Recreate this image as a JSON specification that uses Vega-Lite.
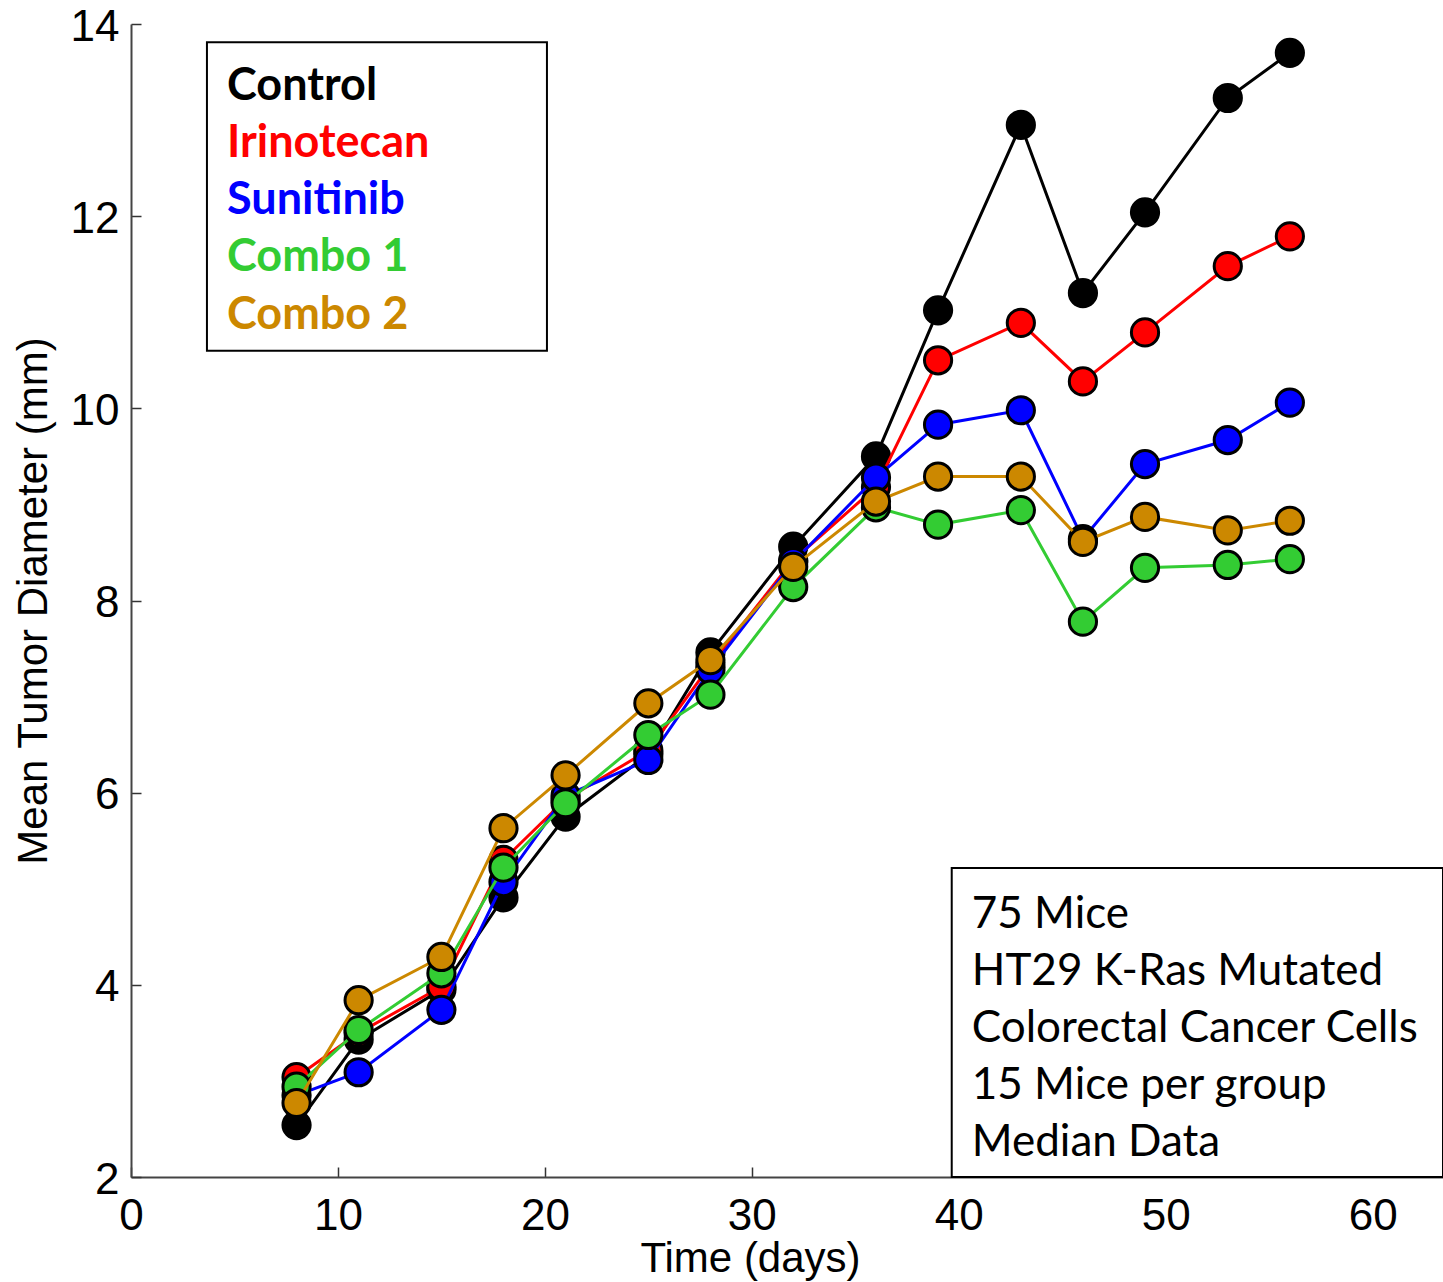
{
  "$schema": "https://vega.github.io/schema/vega-lite/v6.json",
  "width": 1312,
  "height": 1153,
  "autosize": {"type": "none"},
  "padding": {"left": 131, "top": 24, "right": 0, "bottom": 105},
  "background": "white",
  "config": {"view": {"stroke": null}, "font": "Liberation Sans"},
  "datasets": {
    "tumor": [
      {"series": "Control", "day": 8, "diameter": 2.54},
      {"series": "Control", "day": 11, "diameter": 3.43},
      {"series": "Control", "day": 15, "diameter": 3.95},
      {"series": "Control", "day": 18, "diameter": 4.91},
      {"series": "Control", "day": 21, "diameter": 5.75},
      {"series": "Control", "day": 25, "diameter": 6.40},
      {"series": "Control", "day": 28, "diameter": 7.46},
      {"series": "Control", "day": 32, "diameter": 8.56},
      {"series": "Control", "day": 36, "diameter": 9.50},
      {"series": "Control", "day": 39, "diameter": 11.02},
      {"series": "Control", "day": 43, "diameter": 12.95},
      {"series": "Control", "day": 46, "diameter": 11.20},
      {"series": "Control", "day": 49, "diameter": 12.04},
      {"series": "Control", "day": 53, "diameter": 13.23},
      {"series": "Control", "day": 56, "diameter": 13.70},
      {"series": "Irinotecan", "day": 8, "diameter": 3.04},
      {"series": "Irinotecan", "day": 11, "diameter": 3.50},
      {"series": "Irinotecan", "day": 15, "diameter": 3.98},
      {"series": "Irinotecan", "day": 18, "diameter": 5.30},
      {"series": "Irinotecan", "day": 21, "diameter": 5.93},
      {"series": "Irinotecan", "day": 25, "diameter": 6.44},
      {"series": "Irinotecan", "day": 28, "diameter": 7.33},
      {"series": "Irinotecan", "day": 32, "diameter": 8.42},
      {"series": "Irinotecan", "day": 36, "diameter": 9.18},
      {"series": "Irinotecan", "day": 39, "diameter": 10.50},
      {"series": "Irinotecan", "day": 43, "diameter": 10.89},
      {"series": "Irinotecan", "day": 46, "diameter": 10.28},
      {"series": "Irinotecan", "day": 49, "diameter": 10.79},
      {"series": "Irinotecan", "day": 53, "diameter": 11.48},
      {"series": "Irinotecan", "day": 56, "diameter": 11.79},
      {"series": "Sunitinib", "day": 8, "diameter": 2.85},
      {"series": "Sunitinib", "day": 11, "diameter": 3.09},
      {"series": "Sunitinib", "day": 15, "diameter": 3.74},
      {"series": "Sunitinib", "day": 18, "diameter": 5.07},
      {"series": "Sunitinib", "day": 21, "diameter": 5.97},
      {"series": "Sunitinib", "day": 25, "diameter": 6.34},
      {"series": "Sunitinib", "day": 28, "diameter": 7.28},
      {"series": "Sunitinib", "day": 32, "diameter": 8.40},
      {"series": "Sunitinib", "day": 36, "diameter": 9.28},
      {"series": "Sunitinib", "day": 39, "diameter": 9.83},
      {"series": "Sunitinib", "day": 43, "diameter": 9.98},
      {"series": "Sunitinib", "day": 46, "diameter": 8.64},
      {"series": "Sunitinib", "day": 49, "diameter": 9.42},
      {"series": "Sunitinib", "day": 53, "diameter": 9.67},
      {"series": "Sunitinib", "day": 56, "diameter": 10.06},
      {"series": "Combo 1", "day": 8, "diameter": 2.94},
      {"series": "Combo 1", "day": 11, "diameter": 3.53},
      {"series": "Combo 1", "day": 15, "diameter": 4.12},
      {"series": "Combo 1", "day": 18, "diameter": 5.22},
      {"series": "Combo 1", "day": 21, "diameter": 5.89},
      {"series": "Combo 1", "day": 25, "diameter": 6.60},
      {"series": "Combo 1", "day": 28, "diameter": 7.02},
      {"series": "Combo 1", "day": 32, "diameter": 8.14},
      {"series": "Combo 1", "day": 36, "diameter": 8.97},
      {"series": "Combo 1", "day": 39, "diameter": 8.79},
      {"series": "Combo 1", "day": 43, "diameter": 8.94},
      {"series": "Combo 1", "day": 46, "diameter": 7.78},
      {"series": "Combo 1", "day": 49, "diameter": 8.34},
      {"series": "Combo 1", "day": 53, "diameter": 8.37},
      {"series": "Combo 1", "day": 56, "diameter": 8.43},
      {"series": "Combo 2", "day": 8, "diameter": 2.77},
      {"series": "Combo 2", "day": 11, "diameter": 3.84},
      {"series": "Combo 2", "day": 15, "diameter": 4.29},
      {"series": "Combo 2", "day": 18, "diameter": 5.63},
      {"series": "Combo 2", "day": 21, "diameter": 6.18},
      {"series": "Combo 2", "day": 25, "diameter": 6.93},
      {"series": "Combo 2", "day": 28, "diameter": 7.38},
      {"series": "Combo 2", "day": 32, "diameter": 8.35},
      {"series": "Combo 2", "day": 36, "diameter": 9.03},
      {"series": "Combo 2", "day": 39, "diameter": 9.29},
      {"series": "Combo 2", "day": 43, "diameter": 9.29},
      {"series": "Combo 2", "day": 46, "diameter": 8.61},
      {"series": "Combo 2", "day": 49, "diameter": 8.87},
      {"series": "Combo 2", "day": 53, "diameter": 8.73},
      {"series": "Combo 2", "day": 56, "diameter": 8.83}
    ]
  },
  "layer": [
    {
      "data": {"values": [{}]},
      "mark": {"type": "rect", "fill": "white", "stroke": "black", "strokeWidth": 2},
      "encoding": {
        "x": {"datum": 3.67, "type": "quantitative"},
        "x2": {"datum": 20.1},
        "y": {"datum": 13.81, "type": "quantitative"},
        "y2": {"datum": 10.6}
      }
    },
    {
      "data": {"values": [{}]},
      "mark": {"type": "rect", "fill": "white", "stroke": "black", "strokeWidth": 2},
      "encoding": {
        "x": {"datum": 39.66, "type": "quantitative"},
        "x2": {"datum": 63.4},
        "y": {"datum": 5.216, "type": "quantitative"},
        "y2": {"datum": 2}
      }
    },
    {
      "data": {"values": [{}]},
      "mark": {
        "type": "text",
        "text": ["75 Mice", "HT29 K-Ras Mutated", "Colorectal Cancer Cells", "15 Mice per group", "Median Data"],
        "align": "left",
        "baseline": "alphabetic",
        "font": "Lato",
        "fontSize": 44,
        "lineHeight": 57,
        "color": "black"
      },
      "encoding": {
        "x": {"datum": 40.63, "type": "quantitative"},
        "y": {"datum": 4.59, "type": "quantitative"}
      }
    },
    {
      "data": {"name": "tumor"},
      "encoding": {
        "x": {
          "field": "day",
          "type": "quantitative",
          "scale": {"domain": [0, 63.4], "nice": false, "zero": false},
          "axis": {
            "title": "Time (days)",
            "values": [0, 10, 20, 30, 40, 50, 60],
            "format": "d",
            "grid": false,
            "tickSize": -10,
            "tickColor": "#333333",
            "tickWidth": 1.5,
            "domainColor": "#444444",
            "domainWidth": 2,
            "labelFont": "Liberation Sans",
            "labelFontSize": 44,
            "labelColor": "black",
            "labelPadding": 27,
            "labelFlush": false,
            "labelOverlap": false,
            "titleFont": "Liberation Sans",
            "titleFontSize": 42,
            "titleFontWeight": "normal",
            "titleColor": "black",
            "titlePadding": 0,
            "titleX": 619
          }
        },
        "y": {
          "field": "diameter",
          "type": "quantitative",
          "scale": {"domain": [2, 14], "nice": false, "zero": false},
          "axis": {
            "title": "Mean Tumor Diameter (mm)",
            "values": [2, 4, 6, 8, 10, 12, 14],
            "format": "d",
            "grid": false,
            "tickSize": -10,
            "tickColor": "#333333",
            "tickWidth": 1.5,
            "domainColor": "#444444",
            "domainWidth": 2,
            "labelFont": "Liberation Sans",
            "labelFontSize": 44,
            "labelColor": "black",
            "labelPadding": 22,
            "labelOffset": 3,
            "labelFlush": false,
            "labelOverlap": false,
            "titleFont": "Liberation Sans",
            "titleFontSize": 42,
            "titleFontWeight": "normal",
            "titleColor": "black",
            "titlePadding": 15
          }
        },
        "color": {
          "field": "series",
          "type": "nominal",
          "scale": {
            "domain": ["Control", "Irinotecan", "Sunitinib", "Combo 1", "Combo 2"],
            "range": ["#000000", "#FF0000", "#0000FF", "#33CC33", "#CC8800"]
          },
          "legend": {
            "orient": "none",
            "legendX": 51,
            "legendY": 39,
            "title": null,
            "symbolSize": 0,
            "symbolStrokeWidth": 0,
            "symbolOpacity": 0,
            "labelFont": "Lato",
            "labelFontWeight": "bold",
            "labelFontSize": 45,
            "labelOffset": 0,
            "labelLimit": 0,
            "rowPadding": 11.3,
            "padding": 0,
            "encode": {"labels": {"update": {"fill": {"scale": "color", "field": "value"}}}}
          }
        }
      },
      "layer": [
        {
          "transform": [{"filter": "datum.series === 'Control'"}],
          "layer": [
            {"mark": {"type": "line", "strokeWidth": 3}},
            {"mark": {"type": "point", "shape": "circle", "filled": true, "opacity": 1, "size": 740, "stroke": "black", "strokeWidth": 3}}
          ]
        },
        {
          "transform": [{"filter": "datum.series === 'Irinotecan'"}],
          "layer": [
            {"mark": {"type": "line", "strokeWidth": 3}},
            {"mark": {"type": "point", "shape": "circle", "filled": true, "opacity": 1, "size": 740, "stroke": "black", "strokeWidth": 3}}
          ]
        },
        {
          "transform": [{"filter": "datum.series === 'Sunitinib'"}],
          "layer": [
            {"mark": {"type": "line", "strokeWidth": 3}},
            {"mark": {"type": "point", "shape": "circle", "filled": true, "opacity": 1, "size": 740, "stroke": "black", "strokeWidth": 3}}
          ]
        },
        {
          "transform": [{"filter": "datum.series === 'Combo 1'"}],
          "layer": [
            {"mark": {"type": "line", "strokeWidth": 3}},
            {"mark": {"type": "point", "shape": "circle", "filled": true, "opacity": 1, "size": 740, "stroke": "black", "strokeWidth": 3}}
          ]
        },
        {
          "transform": [{"filter": "datum.series === 'Combo 2'"}],
          "layer": [
            {"mark": {"type": "line", "strokeWidth": 3}},
            {"mark": {"type": "point", "shape": "circle", "filled": true, "opacity": 1, "size": 740, "stroke": "black", "strokeWidth": 3}}
          ]
        }
      ]
    }
  ]
}
